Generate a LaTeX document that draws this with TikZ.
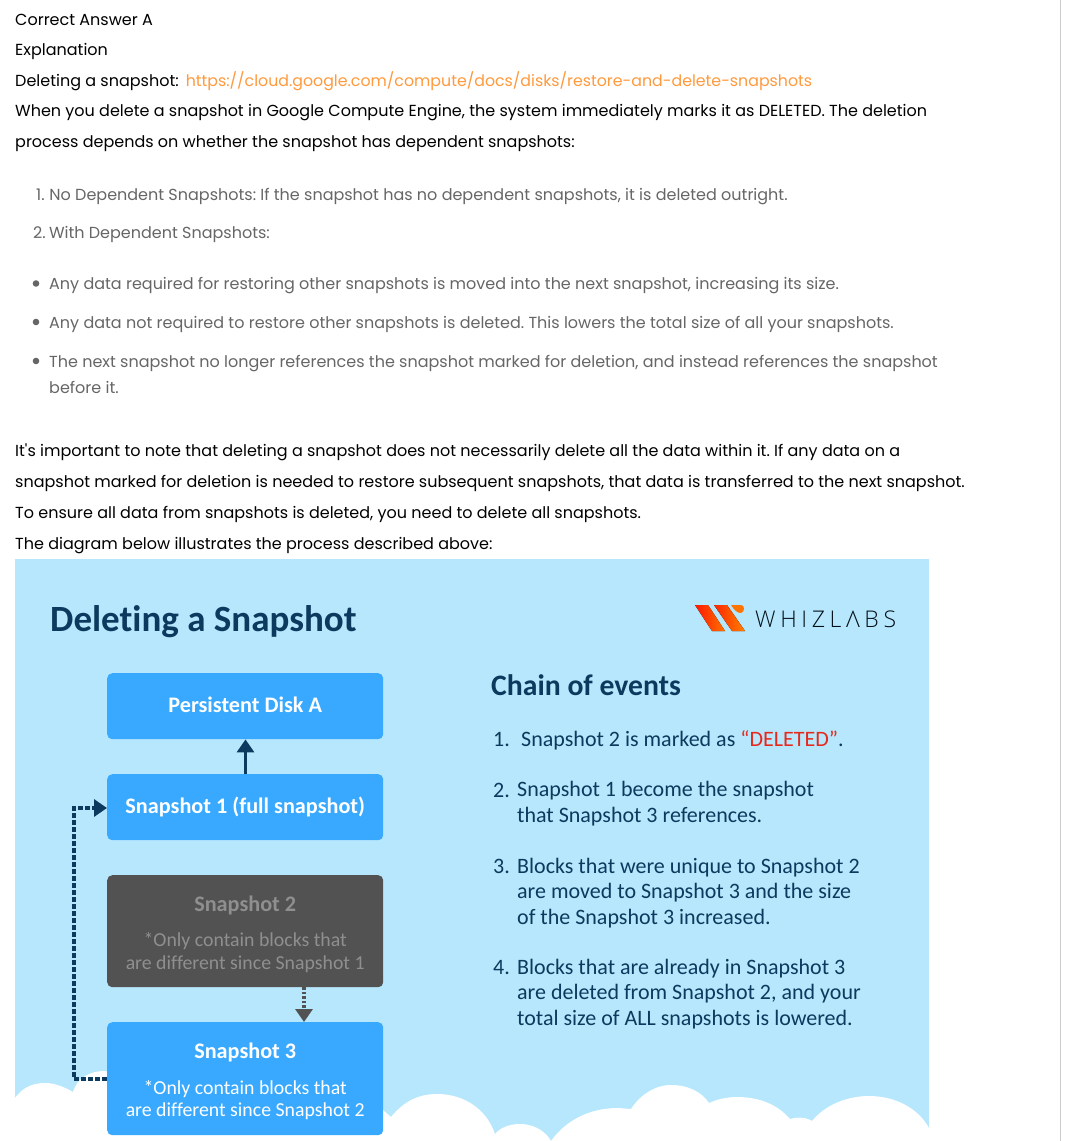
\documentclass[tikz,border=0pt]{standalone}
\usepackage{fontspec}
\setmainfont{Poppins}
\newfontfamily\panelfont[Ligatures=NoCommon]{Carlito}
\newfontfamily\logofont[LetterSpace=20]{Open Sans Light}
\usepackage{xcolor}
\definecolor{panelBlue}{HTML}{B7E7FC}
\definecolor{boxBlue}{HTML}{38A9FF}
\definecolor{boxGrey}{HTML}{525252}
\definecolor{fadedText}{HTML}{8F8F8F}
\definecolor{navy}{HTML}{0B3A5E}
\definecolor{linkOrange}{HTML}{FF9A3D}
\definecolor{listGrey}{HTML}{666666}
\definecolor{deletedRed}{HTML}{E8281A}
\usetikzlibrary{arrows.meta}
\frenchspacing
\newcommand{\noteFont}{\mdseries\fontsize{19.8}{22.5}\selectfont}

\begin{document}
\begin{tikzpicture}[
    x=1pt, y=-1pt,
    bodyLine/.style={anchor=base west, inner sep=0pt, text=black, font=\fontsize{16}{31}\selectfont, align=left},
    listLine/.style={bodyLine, text=listGrey},
    boxPart/.style={rectangle, rounded corners=5pt, fill=boxBlue, text=white, align=center, minimum width=276pt, inner sep=0pt, anchor=north west, font=\panelfont\bfseries\fontsize{22.2}{22.5}\selectfont},
    chainLine/.style={anchor=base west, inner sep=0pt, text=navy, align=left, font=\panelfont\fontsize{22}{25.3}\selectfont},
    arrowStyle/.style={-{Triangle[length=13pt,width=17pt]}, line width=3.2pt, draw=navy},
    dashStyle/.style={arrowStyle, dash pattern=on 5pt off 2pt}
]
    \useasboundingbox (0,0) rectangle (1067,1141);
    \fill[white] (0,0) rectangle (1067,1141);
    \draw[black!20] (1060.5,0) -- (1060.5,1141);

    % text above the panel
    \node[bodyLine] (answer) at (15,25) {Correct Answer A};
    \node[bodyLine] (expl) at (15,55) {Explanation};
    \node[bodyLine] (delLink) at (15,86) {Deleting a snapshot:\hspace{7pt}\textcolor{linkOrange}{\fontsize{15.8}{31}\selectfont https://cloud.google.com/compute/docs/disks/restore-and-delete-snapshots}};
    \node[bodyLine] (intro) at (15,147) {When you delete a snapshot in Google Compute Engine, the system immediately marks it as DELETED. The deletion\\process depends on whether the snapshot has dependent snapshots:};
    \node[listLine] (item1) at (36,200) {1.\hspace{0.5pt} No Dependent Snapshots: If the snapshot has no dependent snapshots, it is deleted outright.};
    \node[listLine] (item2) at (33,238) {2.\hspace{-1pt} With Dependent Snapshots:};
    \node[listLine] (bul1) at (49,289) {Any data required for restoring other snapshots is moved into the next snapshot, increasing its size.};
    \node[listLine] (bul2) at (49,328) {Any data not required to restore other snapshots is deleted. This lowers the total size of all your snapshots.};
    \node[listLine, font=\fontsize{16}{26.5}\selectfont] (bul3) at (49,393.5) {The next snapshot no longer references the snapshot marked for deletion, and instead references the snapshot\\before it.};
    \foreach \yy in {283.5,322,361}
        \fill[listGrey] (36,\yy) circle (3.3pt);
    \node[bodyLine] (note) at (15,549) {It\textquotesingle s important to note that deleting a snapshot does not necessarily delete all the data within it. If any data on a\\snapshot marked for deletion is needed to restore subsequent snapshots, that data is transferred to the next snapshot.\\To ensure all data from snapshots is deleted, you need to delete all snapshots.\\The diagram below illustrates the process described above:};

    % panel and clouds
    \fill[panelBlue] (15,559) rectangle (929,1141);
    \fill[white] (15,1141) -- (15,1098) .. controls (22,1088) and (32,1083) .. (45,1083)
        .. controls (56,1083) and (66,1088) .. (73,1092) .. controls (77,1078) and (90,1071) .. (104,1071)
        -- (383,1110) -- (391,1117) .. controls (405,1100) and (420,1094) .. (437,1094)
        .. controls (465,1094) and (487,1110) .. (495,1134) .. controls (501,1127) and (510,1124) .. (520,1124)
        .. controls (535,1124) and (546,1132) .. (551,1141) .. controls (566,1120) and (590,1108) .. (618,1108)
        -- (631,1109) .. controls (640,1095) and (655,1085) .. (671,1085)
        .. controls (688,1085) and (702,1092) .. (709,1103) .. controls (718,1099) and (727,1097) .. (737,1097)
        .. controls (760,1097) and (778,1105) .. (790,1119) .. controls (797,1117) and (806,1117) .. (812,1121)
        .. controls (825,1105) and (847,1096) .. (869,1096) .. controls (895,1096) and (918,1108) .. (929,1128)
        -- (929,1141) -- cycle;

    \node[anchor=base west, inner sep=0pt, text=navy, font=\panelfont\bfseries\fontsize{37}{40}\selectfont] (title) at (50,631) {Deleting a Snapshot};

    % logo
    \fill[left color=red!80!orange, right color=orange!90!red] (695,605) -- (708,605) -- (725,631) -- (712,631) -- cycle;
    \fill[left color=red!70!orange, right color=orange] (714,605) -- (727,605) -- (745,631) -- (732,631) -- cycle;
    \fill[orange!90!red] (731,605) -- (741,605) .. controls (745,605) and (745,612) .. (741,613) .. controls (737,613) and (734,610) .. (731,605) -- cycle;
    \node[anchor=base west, inner sep=0pt, text=black!75!navy, font=\logofont\fontsize{23}{26}\selectfont] (logoText) at (755,627.5) {WHIZLΛBS};

    \node[boxPart, minimum height=66pt] (disk) at (107,673) {\raisebox{2.5pt}{Persistent Disk A}};
    \node[boxPart, minimum height=66pt] (snapOne) at (107,774) {\raisebox{-2.5pt}{Snapshot 1 (full snapshot)}};
    \node[boxPart, minimum height=112pt, fill=boxGrey, text=fadedText] (snapTwo) at (107,875) {\rule{0pt}{21pt}Snapshot 2\\[13pt]\noteFont *Only contain blocks that\\\noteFont are different since Snapshot 1};
    \node[boxPart, minimum height=113pt] (snapThree) at (107,1022) {\rule{0pt}{21pt}Snapshot 3\\[13pt]\noteFont *Only contain blocks that\\\noteFont are different since Snapshot 2};

    \coordinate (upX) at (245.5,0);
    \coordinate (downX) at (304,0);
    \coordinate (turnLow) at (74,1079);
    \coordinate (turnHigh) at (74,808);
    \draw[arrowStyle] (snapOne.north -| upX) -- (disk.south -| upX);
    \draw[dashStyle] (snapThree.west |- turnLow) -- (turnLow) -- (turnHigh) -- (snapOne.west |- turnHigh);
    \draw[dashStyle, dash pattern=on 2.5pt off 2pt, draw=boxGrey] (snapTwo.south -| downX) -- (snapThree.north -| downX);

    \node[anchor=base west, inner sep=0pt, text=navy, font=\panelfont\bfseries\fontsize{29.7}{32}\selectfont] (chain) at (491,695) {Chain of events};
    \node[chainLine] (evOneNum) at (493,746) {1.};
    \node[chainLine] (evOne) at (521,746) {Snapshot 2 is marked as \textcolor{deletedRed}{“DELETED”}.};
    \node[chainLine] (evTwoNum) at (493,797) {2.};
    \node[chainLine] (evTwo) at (517,822) {Snapshot 1 become the snapshot\\that Snapshot 3 references.};
    \node[chainLine] (evThreeNum) at (493,873) {3.};
    \node[chainLine] (evThree) at (517,924) {Blocks that were unique to Snapshot 2\\are moved to Snapshot 3 and the size\\of the Snapshot 3 increased.};
    \node[chainLine] (evFourNum) at (493,974) {4.};
    \node[chainLine] (evFour) at (517,1025) {Blocks that are already in Snapshot 3\\are deleted from Snapshot 2, and your\\total size of ALL snapshots is lowered.};
\end{tikzpicture}
\end{document}
